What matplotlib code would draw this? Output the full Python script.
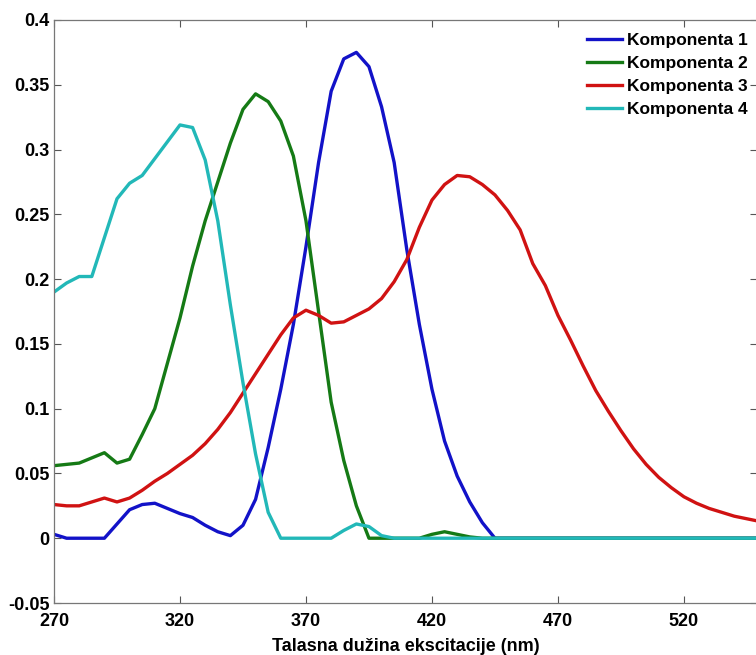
import numpy as np
import matplotlib
matplotlib.use("Agg")
import matplotlib.pyplot as plt

plt.rcParams['font.family'] = ['Liberation Sans', 'DejaVu Sans']
plt.rcParams['font.weight'] = 'bold'

# wavelength grid (nm)
wl = np.arange(270, 555, 5)

# Komponenta 1 (blue)
k1 = [0.003, 0.0, 0.0, 0.0, 0.0, 0.011, 0.022, 0.026, 0.027, 0.023,
      0.019, 0.016, 0.010, 0.005, 0.002, 0.010, 0.030, 0.070, 0.115, 0.165,
      0.225, 0.290, 0.345, 0.370, 0.375, 0.364, 0.333, 0.290, 0.223, 0.165,
      0.115, 0.075, 0.048, 0.028, 0.012, 0.0, 0.0, 0.0, 0.0, 0.0,
      0.0, 0.0, 0.0, 0.0, 0.0, 0.0, 0.0, 0.0, 0.0, 0.0,
      0.0, 0.0, 0.0, 0.0, 0.0, 0.0, 0.0]
# Komponenta 2 (green)
k2 = [0.056, 0.057, 0.058, 0.062, 0.066, 0.058, 0.061, 0.080, 0.100, 0.135,
      0.170, 0.210, 0.245, 0.275, 0.305, 0.331, 0.343, 0.337, 0.322, 0.295,
      0.245, 0.175, 0.105, 0.060, 0.025, 0.0, 0.0, 0.0, 0.0, 0.0,
      0.003, 0.005, 0.003, 0.001, 0.0, 0.0, 0.0, 0.0, 0.0, 0.0,
      0.0, 0.0, 0.0, 0.0, 0.0, 0.0, 0.0, 0.0, 0.0, 0.0,
      0.0, 0.0, 0.0, 0.0, 0.0, 0.0, 0.0]
# Komponenta 3 (red)
k3 = [0.026, 0.025, 0.025, 0.028, 0.031, 0.028, 0.031, 0.037, 0.044, 0.050,
      0.057, 0.064, 0.073, 0.084, 0.097, 0.112, 0.127, 0.142, 0.157, 0.170,
      0.176, 0.172, 0.166, 0.167, 0.172, 0.177, 0.185, 0.198, 0.215, 0.240,
      0.261, 0.273, 0.280, 0.279, 0.273, 0.265, 0.253, 0.238, 0.212, 0.195,
      0.172, 0.153, 0.133, 0.114, 0.098, 0.083, 0.069, 0.057, 0.047, 0.039,
      0.032, 0.027, 0.023, 0.020, 0.017, 0.015, 0.013]
# Komponenta 4 (cyan)
k4 = [0.190, 0.197, 0.202, 0.202, 0.232, 0.262, 0.274, 0.280, 0.293, 0.306,
      0.319, 0.317, 0.292, 0.245, 0.180, 0.120, 0.065, 0.020, 0.0, 0.0,
      0.0, 0.0, 0.0, 0.006, 0.011, 0.009, 0.002, 0.0, 0.0, 0.0,
      0.0, 0.0, 0.0, 0.0, 0.0, 0.0, 0.0, 0.0, 0.0, 0.0,
      0.0, 0.0, 0.0, 0.0, 0.0, 0.0, 0.0, 0.0, 0.0, 0.0,
      0.0, 0.0, 0.0, 0.0, 0.0, 0.0, 0.0]

labels = ['Komponenta 1', 'Komponenta 2', 'Komponenta 3', 'Komponenta 4']
colors = ['#1212c8', '#157a15', '#d01212', '#22b8b8']

xticks = [270, 320, 370, 420, 470, 520]
yticks = [-0.05, 0, 0.05, 0.1, 0.15, 0.2, 0.25, 0.3, 0.35, 0.4]
yticklabels = ['-0.05', '0', '0.05', '0.1', '0.15', '0.2', '0.25', '0.3', '0.35', '0.4']

fig = plt.figure(figsize=(7.56, 6.55), dpi=100)
ax = fig.add_axes([54/756, 52/655, 703/756, 583/655])

for y, lab, c in zip([k1, k2, k3, k4], labels, colors):
    ax.plot(wl, y, color=c, lw=2.4, label=lab, solid_joinstyle='round')

ax.set_xlim(270, 549)
ax.set_ylim(-0.05, 0.4)
ax.set_xticks(xticks)
ax.set_yticks(yticks)
ax.set_yticklabels(yticklabels)
ax.tick_params(direction='in', top=True, right=True, length=5, width=0.8,
               labelsize=13, color='#555555')
ax.tick_params(axis='x', pad=7)
ax.tick_params(axis='y', pad=3)
for s in ax.spines.values():
    s.set_color('#777777')
    s.set_linewidth(0.9)

ax.set_xlabel('Talasna dužina ekscitacije (nm)', fontsize=13, fontweight='bold', labelpad=6)

leg = ax.legend(loc='upper right', frameon=False, fontsize=12.5, handlelength=2.0,
                handletextpad=0.3, labelspacing=0.45, borderaxespad=0.35,
                bbox_to_anchor=(1.005, 1.0))

fig.savefig('out.png', dpi=100)
